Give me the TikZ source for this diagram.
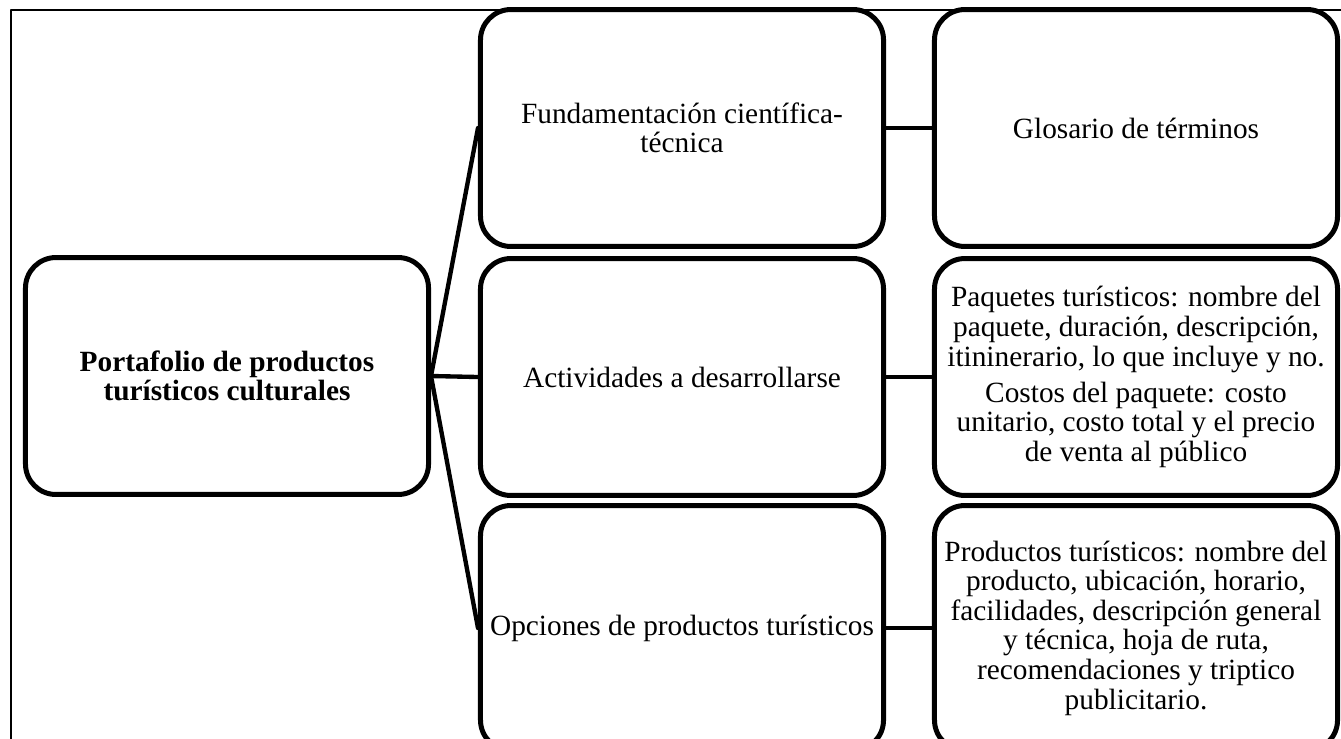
\documentclass[tikz,border=0pt]{standalone}
\usepackage{fontspec}
\setmainfont{Liberation Serif}
\tikzset{
  every picture/.style={line join=round, line cap=round},
  box/.style={draw, line width=2.3pt, rounded corners=14pt, fill=white,
    minimum width=185.4pt, minimum height=109pt, inner sep=0pt,
    align=center, font=\fontsize{13.5}{13.6}\selectfont},
  tall/.style={minimum height=112.7pt},
  link/.style={line width=2pt},
  frame/.style={line width=0.7pt},
}

\begin{document}
\begin{tikzpicture}[x=0.46pt,y=-0.46pt]
\clip (0,0) rectangle (1341,738);
\draw[frame] (11,760) -- (11,10) -- (1360,10);
% root
\node[box] (root) at (227,376) {\bfseries Portafolio de productos\\\bfseries tur\'isticos culturales};
% middle column
\node[box] (fund) at (682,128) {Fundamentaci\'on cient\'ifica-\\t\'ecnica};
\node[box] (activ) at (682,377) {Actividades a desarrollarse};
\node[box,tall] (opc) at (682,628) {Opciones de productos tur\'isticos};
% right column
\node[box] (glos) at (1136,128) {Glosario de t\'erminos};
\node[box] (paq) at (1136,377) {Paquetes tur\'isticos: nombre del\\paquete, duraci\'on, descripci\'on,\\itininerario, lo que incluye y no.\\[3pt]Costos del paquete: costo\\unitario, costo total y el precio\\de venta al p\'ublico};
\node[box,tall] (prod) at (1136,628) {Productos tur\'isticos: nombre del\\producto, ubicaci\'on, horario,\\facilidades, descripci\'on general\\y t\'ecnica, hoja de ruta,\\recomendaciones y triptico\\publicitario.};
% links
\draw[link] (root.east) -- (fund.west);
\draw[link] (root.east) -- (activ.west);
\draw[link] (root.east) -- (opc.west);
\draw[link] (fund.east) -- (glos.west);
\draw[link] (activ.east) -- (paq.west);
\draw[link] (opc.east) -- (prod.west);
\end{tikzpicture}
\end{document}
